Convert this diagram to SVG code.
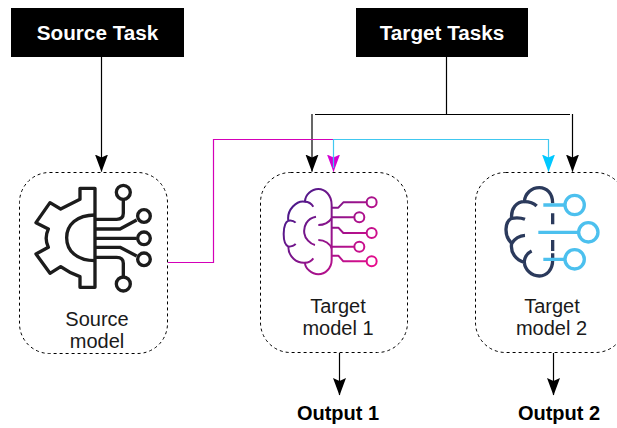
<svg xmlns="http://www.w3.org/2000/svg" width="617" height="428" viewBox="0 0 617 428">
<style>
.t{font-family:"Liberation Sans",Arial,sans-serif;text-anchor:middle}
.hd{font-size:20.700px;font-weight:bold;fill:#fff}
.lb{font-size:20px;fill:#1a1a1a}
.out{font-size:20px;font-weight:bold;fill:#000}
.box{fill:#fff;stroke:#000;stroke-dasharray:3 3;stroke-width:1}
.c{fill:none;stroke-width:1.2}
.ic{fill:none;stroke-linecap:butt;stroke-linejoin:round}
</style>
<defs>
<marker id="ak" markerUnits="userSpaceOnUse" markerWidth="19" markerHeight="14" refX="17" refY="6.500" orient="auto"><path d="M0 0L17.500 6.500L0 13L3 6.500Z" fill="#000"/></marker>
<marker id="am" markerUnits="userSpaceOnUse" markerWidth="19" markerHeight="14" refX="17" refY="6.500" orient="auto"><path d="M0 0L17.500 6.500L0 13L3 6.500Z" fill="#d400d4"/></marker>
<marker id="ab" markerUnits="userSpaceOnUse" markerWidth="19" markerHeight="14" refX="17" refY="6.500" orient="auto"><path d="M0 0L17.500 6.500L0 13L3 6.500Z" fill="#00c8ff"/></marker>
<linearGradient id="gr" gradientUnits="userSpaceOnUse" x1="100" y1="330" x2="380" y2="530"><stop offset="0" stop-color="#3c1a8a"/><stop offset="1" stop-color="#ec0c8c"/></linearGradient>
</defs>
<g id="source-task"><rect x="11" y="8" width="173" height="49" fill="#000"/><text class="t hd" x="97.500" y="40">Source Task</text></g>
<g id="target-tasks"><rect x="356" y="8" width="172" height="49" fill="#000"/><text class="t hd" x="442" y="40">Target Tasks</text></g>
<g id="source-model"><rect class="box" x="19.500" y="172.500" width="148" height="181" rx="30"/>
<g class="ic" transform="translate(0,160) scale(.3333)" stroke="#1c1c1c" stroke-width="10">
<path d="M285 85H240V118L182 147L150 128L108 188L145 207Q132 235 145 262L108 282L150 340L182 320Q210 340 240 350V382H285V85Z"/>
<path d="M285 165C230 165 200 195 200 233C200 272 230 302 285 302"/>
<path d="M285 178H350Q370 178 370 160V115M285 207H360L410 180M285 235H410M285 262H360L410 288M285 292H350Q370 292 370 310V355"/>
<circle cx="370" cy="97" r="21"/><circle cx="432" cy="168" r="19"/><circle cx="432" cy="235" r="19"/><circle cx="432" cy="298" r="19"/><circle cx="370" cy="372" r="21"/>
</g>
<text class="t lb" x="97" y="326">Source</text><text class="t lb" x="97" y="348">model</text></g>
<g id="target-model-1"><rect class="box" x="260.500" y="172.500" width="147" height="180" rx="30"/>
<g class="ic" transform="translate(250,90) scale(.3333)" stroke="url(#gr)" stroke-width="6">
<path d="M245 345V510C245 535 225 553 205 553C185 553 165 535 165 518C140 520 115 500 115 470C95 460 98 400 115 392C110 360 140 330 165 335C165 315 185 297 205 297C225 297 245 315 245 345Z"/>
<path d="M165 335C175 335 185 342 190 350M115 392C125 390 132 393 137 398M115 470C125 470 132 468 137 462M165 518C175 518 185 512 190 505M205 405C225 405 238 395 245 385M198 380C170 385 160 410 163 430C165 445 180 462 195 465M205 450C225 450 240 462 245 475"/>
<path d="M245 353H265L280 337H350M245 382H312M245 413H265L280 429H350M245 470H312M245 497H265L280 514H350"/>
<circle cx="365" cy="337" r="15"/><circle cx="328" cy="382" r="15"/><circle cx="365" cy="429" r="15"/><circle cx="328" cy="470" r="15"/><circle cx="365" cy="514" r="15"/>
</g>
<text class="t lb" x="338" y="313">Target</text><text class="t lb" x="338" y="335">model 1</text></g>
<g id="target-model-2"><rect class="box" x="475.500" y="172.500" width="150" height="180" rx="30"/>
<g class="ic" transform="translate(460,90) scale(.3333)" stroke-width="10">
<path stroke="#2b3a5c" d="M278 340C278 310 260 293 238 293C215 293 195 310 193 335C170 335 152 355 155 385C135 395 130 435 155 460C150 490 170 510 193 517C195 540 215 558 238 558C260 558 278 540 278 510V490M278 370V403M278 450V483"/>
<path stroke="#2b3a5c" d="M193 335C208 335 222 340 230 348M155 385C168 383 185 384 195 388M155 460C165 445 180 437 195 436M193 517C192 505 200 490 215 483"/>
<path stroke="#4cc0ee" d="M250 345H315M235 427H358M250 508H315"/>
<circle stroke="#4cc0ee" cx="344" cy="345" r="29"/><circle stroke="#4cc0ee" cx="385" cy="427" r="29"/><circle stroke="#4cc0ee" cx="344" cy="508" r="29"/>
</g>
<text class="t lb" x="552" y="313">Target</text><text class="t lb" x="551.500" y="335">model 2</text></g>
<g id="connectors">
<path class="c" stroke="#000" d="M101.500 57V171.500" marker-end="url(#ak)"/>
<path class="c" stroke="#000" d="M446.500 57V114M315 114.500H570"/>
<path class="c" stroke="#000" d="M312 114V171.500" marker-end="url(#ak)"/>
<path class="c" stroke="#000" d="M572.500 114V171.500" marker-end="url(#ak)"/>
<path class="c" stroke="#d400b8" d="M168 262.500H213.500V139.500H333"/>
<path class="c" stroke="#d400b8" d="M333.500 156V171.500" marker-end="url(#am)"/>
<path class="c" stroke="#40c8f0" d="M333 139.500H548.500V171.500" marker-end="url(#ab)"/>
<path class="c" stroke="#40c8f0" d="M333.500 139.500V168"/>
</g>
<g id="output-1"><path class="c" stroke="#000" d="M339.500 353V395" marker-end="url(#ak)"/><text class="t out" x="338" y="419.500">Output 1</text></g>
<g id="output-2"><path class="c" stroke="#000" d="M553.500 353V395" marker-end="url(#ak)"/><text class="t out" x="559" y="419.500">Output 2</text></g>
</svg>
